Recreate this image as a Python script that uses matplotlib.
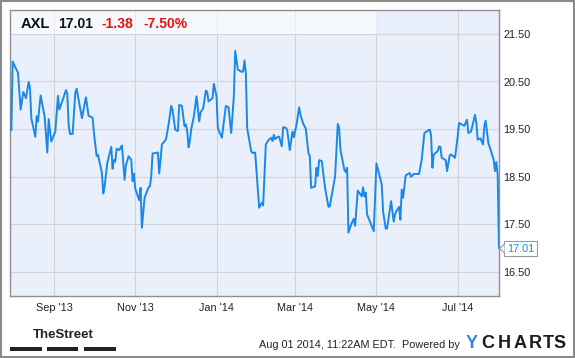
import matplotlib
matplotlib.use('Agg')
import matplotlib.pyplot as plt
import pandas as pd
from matplotlib.patches import Rectangle, Polygon
from matplotlib.lines import Line2D

plt.rcParams['font.family'] = ['Liberation Sans', 'DejaVu Sans']

# ---------------- data ----------------
ticker = "AXL"
last_price = "17.01"
change = "-1.38"
change_pct = "-7.50%"
timestamp = "Aug 01 2014, 11:22AM EDT.  Powered by"

start_date = "2013-07-30"
days = [1, 2, 6, 8, 10, 12, 14, 15, 16, 19, 20, 21, 23, 26, 28, 29, 31, 34, 36, 37,
        40, 42, 43, 44, 45, 47, 49, 50, 54, 57, 59, 62, 63,
        65, 66, 69, 70, 71, 73, 76, 77, 78, 79, 80, 82, 84, 86, 87, 89, 91, 92, 93, 94,
        97, 98, 99, 101, 104, 105, 106, 107, 111, 112, 114, 117, 119, 121, 122, 124, 126, 127,
        129, 131, 132, 133, 134, 135, 136, 138, 140, 142, 143, 145, 147, 148, 149, 152, 153,
        155, 156, 159, 162, 164, 166, 168, 169, 171, 174, 175, 176, 177, 178, 181, 182, 184,
        187, 189, 190,
        192, 194, 196, 197, 198, 199, 201, 202, 204, 205, 207, 208, 210, 212, 213, 215, 217,
        218, 220, 222, 224, 225, 226, 229, 230, 231, 232, 234, 236, 237, 239, 240, 244, 246,
        247, 248, 251, 252, 253, 254,
        256, 258, 259, 261, 264, 265, 266, 267, 268, 271, 273, 275, 279, 280, 282, 283, 286,
        288, 289, 290, 292, 293, 294, 295, 297, 300, 301, 303, 307, 309, 311, 315, 316, 317, 318,
        321, 322, 323, 324, 327, 328, 330, 331, 334, 336, 337, 339, 341, 343, 344, 346, 349,
        350, 351, 353, 355, 356, 357, 359, 361, 363, 364, 365, 366, 367]
prices = [19.48, 20.92, 20.68, 19.91, 20.28, 20.15, 20.49, 20.36, 19.73, 19.34, 19.77, 19.66,
          20.21, 19.76, 19.01, 19.71, 19.24, 19.45, 20.20, 19.91,
          20.15, 20.32, 20.24, 19.59, 19.40, 19.40, 20.26, 20.35, 19.73, 20.17, 19.78, 19.74, 19.42,
          18.94, 18.96, 18.58, 18.15, 18.30, 18.79, 19.13, 18.67, 18.85, 18.82, 19.09, 19.06,
          19.16, 18.44, 18.74, 18.93, 18.86, 18.41, 18.57, 18.25,
          18.01, 18.27, 17.43, 18.06, 18.28, 18.30, 18.51, 18.99, 19.01, 18.57, 19.18, 19.28,
          19.59, 19.99, 19.90, 19.49, 19.46, 20.01,
          19.99, 19.56, 19.60, 19.46, 19.12, 19.25, 19.50, 19.77, 20.19, 19.66, 19.85, 19.94,
          20.31, 20.28, 20.08, 20.15, 20.45,
          20.19, 19.52, 19.32, 19.99, 19.96, 19.42, 20.19, 21.14, 20.75, 20.70, 20.72, 20.94,
          20.68, 19.52, 19.04, 19.00, 19.01,
          17.85, 17.96, 17.90,
          19.18, 19.27, 19.32, 19.25, 19.38, 19.29, 19.34, 19.34, 19.14, 19.54, 19.53, 19.49,
          19.06, 19.45, 19.33, 19.59, 19.96,
          19.80, 19.62, 19.51, 18.99, 18.94, 18.27, 18.30, 18.69, 18.52, 18.85, 18.83, 18.37,
          18.18, 17.87, 17.88, 18.51, 19.61,
          19.53, 19.07, 18.64, 18.60, 18.69, 17.33,
          17.50, 17.62, 17.47, 18.21, 18.09, 18.28, 18.09, 18.17, 17.71, 17.50, 17.36, 18.78,
          18.34, 17.78, 17.41, 17.42, 17.99,
          17.56, 17.72, 17.78, 17.87, 17.60, 18.23, 18.06, 18.53, 18.58, 18.50, 18.56, 18.56,
          18.86, 19.42, 19.49, 19.38, 18.69, 18.97,
          19.04, 19.14, 19.13, 18.90, 18.85, 18.62, 18.95, 18.97, 18.90, 19.35, 19.63, 19.60,
          19.57, 19.70, 19.42, 19.45, 19.80,
          19.63, 19.28, 19.31, 19.18, 19.56, 19.68, 19.21, 19.04, 18.86, 18.62, 18.81, 18.55, 17.01]

y_ticks = [16.5, 17.5, 18.5, 19.5, 20.5, 21.5]
x_tick_dates = ["2013-09-01", "2013-11-01", "2014-01-01", "2014-03-01", "2014-05-01", "2014-07-01"]
x_tick_labels = ["Sep '13", "Nov '13", "Jan '14", "Mar '14", "May '14", "Jul '14"]

# ---------------- figure ----------------
W, H = 575, 358
fig = plt.figure(figsize=(W / 100, H / 100), dpi=100)
fig.patch.set_facecolor('white')

def fx(px):
    return px / W

def fy(py):
    return 1 - py / H

ax = fig.add_axes([fx(10), fy(296), (499 - 10) / W, (296 - 10) / H])
ax.set_facecolor('#e9f0fb')

dates = pd.Timestamp(start_date) + pd.to_timedelta(days, unit='D')
ax.plot(dates, prices, color='#1a88e8', lw=1.4, solid_joinstyle='round', zorder=3)

ax.set_xlim(pd.Timestamp(start_date), pd.Timestamp("2014-08-01"))
ax.set_ylim(16.0, 22.0)

ax.set_xticks(pd.to_datetime(x_tick_dates))
ax.set_xticklabels(x_tick_labels)
ax.yaxis.tick_right()
ax.set_yticks(y_ticks)
ax.set_yticklabels([f"{v:.2f}" for v in y_ticks])
ax.tick_params(axis='both', length=0, labelsize=7.8, colors='#222222')
ax.tick_params(axis='y', pad=3)
ax.tick_params(axis='x', pad=5)

ax.grid(True, color='#d3d3d3', lw=0.8)
ax.set_axisbelow(True)
for s in ax.spines.values():
    s.set_color('#8f8f8f')
    s.set_linewidth(1.0)

# header band
band_h = (34 - 10) / (296 - 10)
ax.add_patch(Rectangle((0, 1 - band_h), (377 - 10) / 489, band_h, transform=ax.transAxes,
                       facecolor='white', alpha=0.55, edgecolor='none', zorder=2))

ty = fy(24)
fig.text(fx(21), ty, ticker, fontsize=10.5, fontweight='bold', color='#111111', va='center')
fig.text(fx(58), ty, last_price, fontsize=10, fontweight='bold', color='#111111', va='center')
fig.text(fx(102), ty, change, fontsize=10, fontweight='bold', color='#e8120c', va='center')
fig.text(fx(143), ty, change_pct, fontsize=10, fontweight='bold', color='#e8120c', va='center')

# last price label
fig.text(fx(520.5), fy(248.5), last_price, fontsize=7.8, color='#1a88e8', ha='center', va='center',
         bbox=dict(boxstyle='square,pad=0.22', fc='white', ec='#9a9a9a', lw=0.8))
fig.patches.append(Polygon([(fx(499.5), fy(248.5)), (fx(504.5), fy(244)), (fx(504.5), fy(253))],
                           closed=True, transform=fig.transFigure, fc='white', ec='none', zorder=5))
fig.lines.append(Line2D([fx(504.5), fx(499.5), fx(504.5)], [fy(244), fy(248.5), fy(253)],
                        transform=fig.transFigure, color='#9a9a9a', lw=0.8, zorder=6))

# footer
fig.text(fx(63), fy(335.5), "TheStreet", fontsize=9.5, fontweight='bold', color='#222222',
         ha='center', va='center')
for x0, x1 in [(10, 42), (47, 78), (84, 116)]:
    fig.patches.append(Rectangle((fx(x0), fy(351)), (x1 - x0) / W, 4 / H, transform=fig.transFigure,
                                 facecolor='#222222', edgecolor='none'))
fig.text(fx(460), fy(345), timestamp, fontsize=7.8, color='#222222', ha='right', va='center')

for ch, cx, col in [("Y", 472, '#3a84e4'), ("C", 487.7, '#1c1c1c'), ("H", 504, '#1c1c1c'),
                    ("A", 519.7, '#1c1c1c'), ("R", 535, '#1c1c1c'), ("T", 548.7, '#1c1c1c'),
                    ("S", 559.5, '#1c1c1c')]:
    fig.text(fx(cx), fy(344), ch, fontsize=13, fontweight='bold', color=col, ha='center', va='center')

# outer border
fig.patches.append(Rectangle((fx(1), fy(357)), 573 / W, 356 / H, transform=fig.transFigure,
                             fill=False, edgecolor='#8a8a8a', lw=1.5))

fig.savefig('out.png', dpi=100, facecolor='white')
